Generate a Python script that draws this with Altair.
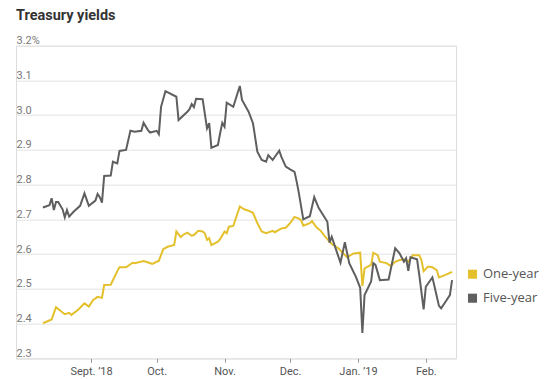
import altair as alt
import pandas as pd

title_text = "Treasury yields"
series_names = ["One-year", "Five-year"]
series_colors = ["#e4c02c", "#5f5f5f"]

one_year_dates = [
    "2018-08-10", "2018-08-14", "2018-08-16", "2018-08-18", "2018-08-20", "2018-08-22", "2018-08-23",
    "2018-08-26", "2018-08-29", "2018-08-31", "2018-09-02", "2018-09-04", "2018-09-06", "2018-09-07",
    "2018-09-10", "2018-09-13", "2018-09-14", "2018-09-17", "2018-09-20", "2018-09-21", "2018-09-25",
    "2018-09-29", "2018-10-02", "2018-10-04", "2018-10-06", "2018-10-09", "2018-10-10", "2018-10-12",
    "2018-10-13", "2018-10-15", "2018-10-17", "2018-10-18", "2018-10-20", "2018-10-22", "2018-10-23",
    "2018-10-24", "2018-10-25", "2018-10-26", "2018-10-29", "2018-10-30", "2018-11-01", "2018-11-02",
    "2018-11-03", "2018-11-05", "2018-11-08", "2018-11-10", "2018-11-12", "2018-11-14", "2018-11-16",
    "2018-11-18", "2018-11-20", "2018-11-23", "2018-11-24", "2018-11-27", "2018-11-29", "2018-12-01",
    "2018-12-03", "2018-12-05", "2018-12-06", "2018-12-07", "2018-12-10", "2018-12-11", "2018-12-13",
    "2018-12-15", "2018-12-17", "2018-12-19", "2018-12-20", "2018-12-23", "2018-12-27", "2018-12-30",
    "2019-01-02", "2019-01-03", "2019-01-04", "2019-01-07", "2019-01-08", "2019-01-10", "2019-01-11",
    "2019-01-14", "2019-01-16", "2019-01-18", "2019-01-20", "2019-01-22", "2019-01-24", "2019-01-26",
    "2019-01-29", "2019-01-30", "2019-01-31", "2019-02-02", "2019-02-04", "2019-02-06", "2019-02-07",
    "2019-02-10", "2019-02-13",
]
one_year_values = [
    2.401, 2.412, 2.447, 2.437, 2.427, 2.431, 2.425,
    2.439, 2.458, 2.449, 2.468, 2.477, 2.474, 2.511,
    2.512, 2.551, 2.562, 2.562, 2.575, 2.574, 2.580,
    2.572, 2.581, 2.614, 2.621, 2.626, 2.665, 2.649,
    2.655, 2.662, 2.653, 2.655, 2.667, 2.665, 2.660,
    2.641, 2.646, 2.626, 2.636, 2.643, 2.665, 2.660,
    2.679, 2.681, 2.737, 2.729, 2.725, 2.719, 2.689,
    2.665, 2.660, 2.667, 2.663, 2.674, 2.676, 2.689,
    2.707, 2.702, 2.698, 2.682, 2.689, 2.695, 2.677,
    2.667, 2.650, 2.636, 2.629, 2.617, 2.591, 2.602,
    2.604, 2.508, 2.559, 2.569, 2.604, 2.597, 2.578,
    2.574, 2.566, 2.578, 2.583, 2.585, 2.578, 2.597,
    2.597, 2.583, 2.551, 2.564, 2.562, 2.554, 2.533,
    2.540, 2.549,
]

five_year_dates = [
    "2018-08-10", "2018-08-13", "2018-08-14", "2018-08-15", "2018-08-16", "2018-08-17", "2018-08-19",
    "2018-08-20", "2018-08-21", "2018-08-22", "2018-08-24", "2018-08-27", "2018-08-29", "2018-08-31",
    "2018-09-03", "2018-09-04", "2018-09-05", "2018-09-06", "2018-09-07", "2018-09-10", "2018-09-11",
    "2018-09-13", "2018-09-14", "2018-09-17", "2018-09-19", "2018-09-21", "2018-09-24", "2018-09-25",
    "2018-09-27", "2018-09-28", "2018-10-01", "2018-10-02", "2018-10-03", "2018-10-05", "2018-10-10",
    "2018-10-11", "2018-10-15", "2018-10-16", "2018-10-17", "2018-10-18", "2018-10-19", "2018-10-22",
    "2018-10-24", "2018-10-25", "2018-10-26", "2018-10-29", "2018-10-30", "2018-10-31", "2018-11-01",
    "2018-11-02", "2018-11-05", "2018-11-08", "2018-11-09", "2018-11-12", "2018-11-14", "2018-11-16",
    "2018-11-18", "2018-11-20", "2018-11-21", "2018-11-23", "2018-11-26", "2018-11-27", "2018-11-29",
    "2018-12-01", "2018-12-03", "2018-12-04", "2018-12-05", "2018-12-07", "2018-12-10", "2018-12-12",
    "2018-12-14", "2018-12-18", "2018-12-19", "2018-12-20", "2018-12-21", "2018-12-24", "2018-12-26",
    "2018-12-28", "2018-12-31", "2019-01-02", "2019-01-03", "2019-01-04", "2019-01-07", "2019-01-08",
    "2019-01-09", "2019-01-11", "2019-01-15", "2019-01-18", "2019-01-20", "2019-01-22", "2019-01-23",
    "2019-01-24", "2019-01-25", "2019-01-28", "2019-01-29", "2019-01-31", "2019-02-01", "2019-02-04",
    "2019-02-05", "2019-02-07", "2019-02-08", "2019-02-10", "2019-02-12", "2019-02-13",
]
five_year_values = [
    2.734, 2.741, 2.761, 2.727, 2.750, 2.750, 2.729,
    2.706, 2.727, 2.708, 2.722, 2.739, 2.775, 2.739,
    2.754, 2.773, 2.764, 2.748, 2.825, 2.826, 2.866,
    2.861, 2.897, 2.900, 2.955, 2.952, 2.955, 2.978,
    2.957, 2.950, 2.955, 2.945, 3.024, 3.069, 3.053,
    2.986, 3.010, 3.017, 3.032, 3.023, 3.047, 3.046,
    2.962, 2.977, 2.906, 2.914, 2.948, 2.978, 2.967,
    3.036, 3.024, 3.084, 3.044, 3.010, 2.977, 2.895,
    2.871, 2.866, 2.885, 2.871, 2.898, 2.880, 2.852,
    2.844, 2.837, 2.808, 2.775, 2.700, 2.709, 2.764,
    2.733, 2.693, 2.633, 2.650, 2.631, 2.575, 2.634,
    2.574, 2.535, 2.503, 2.373, 2.482, 2.521, 2.574,
    2.569, 2.525, 2.527, 2.617, 2.602, 2.578, 2.588,
    2.552, 2.591, 2.585, 2.540, 2.441, 2.506, 2.533,
    2.506, 2.451, 2.444, 2.463, 2.482, 2.525,
]

y_ticks = [2.3, 2.4, 2.5, 2.6, 2.7, 2.8, 2.9, 3.0, 3.1, 3.2]
x_tick_months = [(2018, 9), (2018, 10), (2018, 11), (2018, 12), (2019, 1), (2019, 2)]
x_tick_labels = ["Sept. \u201918", "Oct.", "Nov.", "Dec.", "Jan. \u201919", "Feb."]

df = pd.concat([
    pd.DataFrame({"date": one_year_dates, "value": one_year_values, "series": series_names[0]}),
    pd.DataFrame({"date": five_year_dates, "value": five_year_values, "series": series_names[1]}),
], ignore_index=True)

x_label_expr = ""
for (yr, mo), lab in zip(x_tick_months, x_tick_labels):
    x_label_expr += f"(utcyear(datum.value)=={yr} && utcmonth(datum.value)=={mo - 1}) ? '{lab}' : "
x_label_expr += "''"

y_label_expr = "datum.value > 3.15 ? format(datum.value, '.1f') + '%' : format(datum.value, '.1f')"

x_axis = alt.Axis(
    values=[alt.DateTime(year=y, month=m, date=1, utc=True) for y, m in x_tick_months],
    labelExpr=x_label_expr, title=None, grid=False, domain=False, ticks=True,
    tickSize=4, tickColor="#9a9a9a", labelPadding=3, labelFont="Roboto",
    labelFontSize=11, labelColor="#555555",
)
y_axis = alt.Axis(
    values=y_ticks, labelExpr=y_label_expr, title=None, domain=False, ticks=False,
    labelAlign="left", labelBaseline="alphabetic", labelPadding=0, labelOffset=-2,
    labelFont="Roboto", labelFontSize=11, labelColor="#777777",
    grid=True, gridColor="#e3e3e3", gridWidth=1,
)

lines = alt.Chart(df).mark_line(strokeWidth=2).encode(
    x=alt.X("date:T", axis=x_axis, scale=alt.Scale(
        type="utc",
        domain=[alt.DateTime(year=2018, month=7, date=28, hours=17, utc=True),
                alt.DateTime(year=2019, month=2, date=14, hours=19, utc=True)])),
    y=alt.Y("value:Q", axis=y_axis, scale=alt.Scale(domain=[2.3, 3.2], nice=False, zero=False)),
    color=alt.Color("series:N", sort=series_names,
                    scale=alt.Scale(domain=series_names, range=series_colors),
                    legend=alt.Legend(
                        orient="none", legendX=450, legendY=222, title=None,
                        symbolType="square", symbolSize=20, symbolStrokeWidth=4.6,
                        labelFont="Open Sans", labelFontSize=13, labelColor="#555555",
                        labelOffset=4, rowPadding=1, padding=0,
                    )),
)

title = alt.Chart(pd.DataFrame({"t": [title_text]})).mark_text(
    align="left", baseline="alphabetic", font="Roboto", fontSize=14.5,
    fontWeight="bold", color="#333333",
).encode(x=alt.value(0), y=alt.value(-25.5), text="t:N")

chart = alt.layer(lines, title).properties(
    width=440, height=312.6,
    autosize=alt.AutoSizeParams(type="none"),
    padding={"left": 8, "top": 37.7, "right": 86, "bottom": 20},
).configure_view(stroke=None).configure(background="white")

chart.save("out.html", embed_options={"renderer": "svg", "actions": False})
